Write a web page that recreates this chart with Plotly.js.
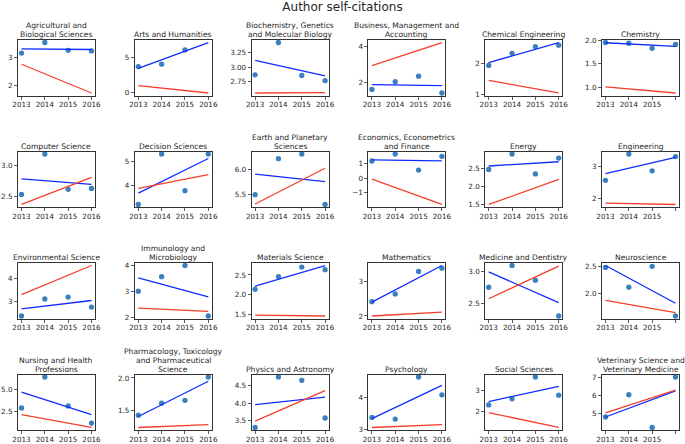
<!DOCTYPE html>
<html>
<head>
<meta charset="utf-8">
<script src="https://cdn.plot.ly/plotly-3.0.1.min.js"></script>
<style>html,body{margin:0;padding:0;background:#fff;}#chart{width:685px;height:444px;}</style>
</head>
<body>
<div id="chart"></div>
<script>
const years = [2013, 2014, 2015, 2016];

const titles = [
  "Agricultural and<br>Biological Sciences", "Arts and Humanities",
  "Biochemistry, Genetics<br>and Molecular Biology", "Business, Management and<br>Accounting",
  "Chemical Engineering", "Chemistry",
  "Computer Science", "Decision Sciences",
  "Earth and Planetary<br>Sciences", "Economics, Econometrics<br>and Finance",
  "Energy", "Engineering",
  "Environmental Science", "Immunology and<br>Microbiology",
  "Materials Science", "Mathematics",
  "Medicine and Dentistry", "Neuroscience",
  "Nursing and Health<br>Professions", "Pharmacology, Toxicology<br>and Pharmaceutical<br>Science",
  "Physics and Astronomy", "Psychology",
  "Social Sciences", "Veterinary Science and<br>Veterinary Medicine"
];

const selfCitation = [
  [3.17, 3.55, 3.27, 3.25],
  [3.65, 4.0, 6.0, null],
  [2.87, 3.43, 2.86, 2.77],
  [1.59, 2.02, 2.33, 1.39],
  [1.93, 2.32, 2.54, 2.585],
  [1.95, 1.935, 1.83, 1.91],
  [2.54, 3.18, 2.62, 2.635],
  [3.21, 5.33, 3.79, 5.33],
  [5.49, 6.225, 6.32, 5.29],
  [1.18, 1.66, 0.55, 1.5],
  [2.46, 2.88, 2.34, 2.77],
  [2.57, 3.4, 2.87, 3.32],
  [2.35, 3.1, 3.18, 2.74],
  [3.0, 3.56, 3.99, 2.04],
  [2.14, 2.46, 2.70, 2.635],
  [2.41, 2.635, 3.28, 3.375],
  [2.75, 3.09, 2.86, 2.30],
  [2.475, 2.12, 2.495, 1.60],
  [2.88, 6.36, 3.11, 1.17],
  [1.425, 1.61, 1.655, 2.015],
  [3.31, 4.745, 4.65, 3.58],
  [3.37, 3.32, 4.62, 4.07],
  [2.31, 2.60, 3.645, 2.775],
  [4.79, 6.02, 4.21, 7.0]
];

// trend lines: value at 2013 and at 2016
const blueTrend = [
  [3.32, 3.30], [3.40, 7.05], [3.12, 2.85], [1.86, 1.80], [2.02, 2.67], [1.945, 1.87],
  [2.785, 2.70], [3.69, 5.14], [5.91, 5.755], [1.25, 1.19], [2.555, 2.67], [2.78, 3.295],
  [2.66, 3.03], [3.515, 2.78], [2.22, 2.74], [2.40, 3.45], [2.99, 2.51], [2.51, 1.83],
  [4.65, 2.12], [1.405, 1.95], [3.96, 4.175], [3.335, 4.36], [2.47, 3.20], [4.79, 6.24]
];
const redTrend = [
  [2.77, 1.74], [0.97, -0.07], [2.555, 2.56], [2.93, 4.22], [1.45, 1.04], [1.02, 0.89],
  [2.38, 2.81], [3.89, 4.46], [5.30, 6.03], [-0.07, -1.82], [1.51, 2.19], [1.85, 1.81],
  [3.29, 4.57], [2.34, 2.22], [1.48, 1.46], [2.0, 2.11], [2.57, 3.08], [1.88, 1.66],
  [2.12, 0.68], [1.235, 1.28], [3.49, 4.36], [3.06, 3.15], [1.94, 1.23], [5.02, 6.27]
];

const yTickLabels = [
  ["2", "3"], ["0", "5"], ["2.75", "3.00", "3.25"], ["2", "4"], ["1", "2"], ["1.0", "1.5", "2.0"],
  ["2.5", "3.0"], ["4", "5"], ["5.5", "6.0"], ["\u22121", "0", "1"], ["1.5", "2.0", "2.5"], ["2", "3"],
  ["3", "4"], ["2", "3", "4"], ["1.5", "2.0", "2.5"], ["2", "3"], ["2.5", "3.0"], ["2.0", "2.5"],
  ["2.5", "5.0"], ["1.5", "2.0"], ["3.5", "4.0", "4.5"], ["3", "4"], ["2", "3"], ["5", "6", "7"]
];
const xTickLabels = ["2013", "2014", "2015", "2016"];

// ---------- layout ----------
const W = 685, H = 444;
const colLeft0 = 18, colPitch = 116.8, panelW = 77;
const rowTop0 = 40, rowPitch = 111.5, panelH = 55.5;
const titleGap = 5.5, titleLineH = 8.6;
const textColor = "#262626";
const spine = "#333333";
const dotColor = "#3a80c0";
const blueColor = "#0f2cff";
const redColor = "#f63f2a";
const font = "DejaVu Sans, Liberation Sans, sans-serif";

const traces = [];
const layout = {
  width: W, height: H,
  margin: {l: 0, r: 0, t: 0, b: 0, pad: 0},
  paper_bgcolor: "#fff", plot_bgcolor: "#fff",
  showlegend: false, hovermode: false,
  font: {family: font, color: textColor, size: 7.2},
  title: {text: "Author self-citations", x: 0.5, xanchor: "center", y: 1 - 6.5 / H, yanchor: "middle",
          font: {family: font, size: 12, color: textColor}},
  annotations: []
};

for (let i = 0; i < 24; i++) {
  const r = Math.floor(i / 6), c = i % 6;
  const sfx = i === 0 ? "" : String(i + 1);
  const x0 = colLeft0 + c * colPitch, x1 = x0 + panelW;
  const top = rowTop0 + r * rowPitch, bot = top + panelH;

  const vals = selfCitation[i].filter(v => v !== null).concat(blueTrend[i], redTrend[i]);
  const lo = Math.min(...vals), hi = Math.max(...vals), pad = (hi - lo) * 0.05;

  const axCommon = {
    showline: true, mirror: true, linecolor: spine, linewidth: 1,
    ticks: "outside", ticklen: 3, tickwidth: 0.8, tickcolor: spine,
    showgrid: false, zeroline: false, fixedrange: true,
    tickfont: {family: font, size: 7.2, color: textColor}
  };
  layout["xaxis" + sfx] = Object.assign({}, axCommon, {
    domain: [x0 / W, x1 / W], anchor: "y" + sfx,
    range: [years[0] - 0.15, years[years.length - 1] + 0.15],
    tickmode: "array", tickvals: years, ticktext: xTickLabels,
    ticklabelstandoff: -1
  });
  layout["yaxis" + sfx] = Object.assign({}, axCommon, {
    domain: [1 - bot / H, 1 - top / H], anchor: "x" + sfx,
    range: [lo - pad, hi + pad],
    tickmode: "array",
    tickvals: yTickLabels[i].map(s => parseFloat(s.replace("\u2212", "-"))),
    ticktext: yTickLabels[i]
  });

  const lines = titles[i].split("<br>");
  lines.forEach((ln, k) => {
    const yc = top - titleGap - (lines.length - 1 - k) * titleLineH;
    layout.annotations.push({
      text: ln, xref: "paper", yref: "paper",
      x: (x0 + x1) / 2 / W, y: 1 - yc / H, xanchor: "center", yanchor: "middle",
      showarrow: false, borderpad: 0,
      font: {family: font, size: 7.6, color: textColor}
    });
  });

  const xa = "x" + sfx, ya = "y" + sfx;
  traces.push({type: "scatter", mode: "markers", x: years, y: selfCitation[i], xaxis: xa, yaxis: ya,
               marker: {color: dotColor, size: 5.3}, cliponaxis: false});
  traces.push({type: "scatter", mode: "lines", x: [years[0], years[years.length - 1]], y: blueTrend[i],
               xaxis: xa, yaxis: ya, line: {color: blueColor, width: 1.3}});
  traces.push({type: "scatter", mode: "lines", x: [years[0], years[years.length - 1]], y: redTrend[i],
               xaxis: xa, yaxis: ya, line: {color: redColor, width: 1.3}});
}

Plotly.newPlot("chart", traces, layout, {staticPlot: true, displayModeBar: false});
</script>
</body>
</html>
